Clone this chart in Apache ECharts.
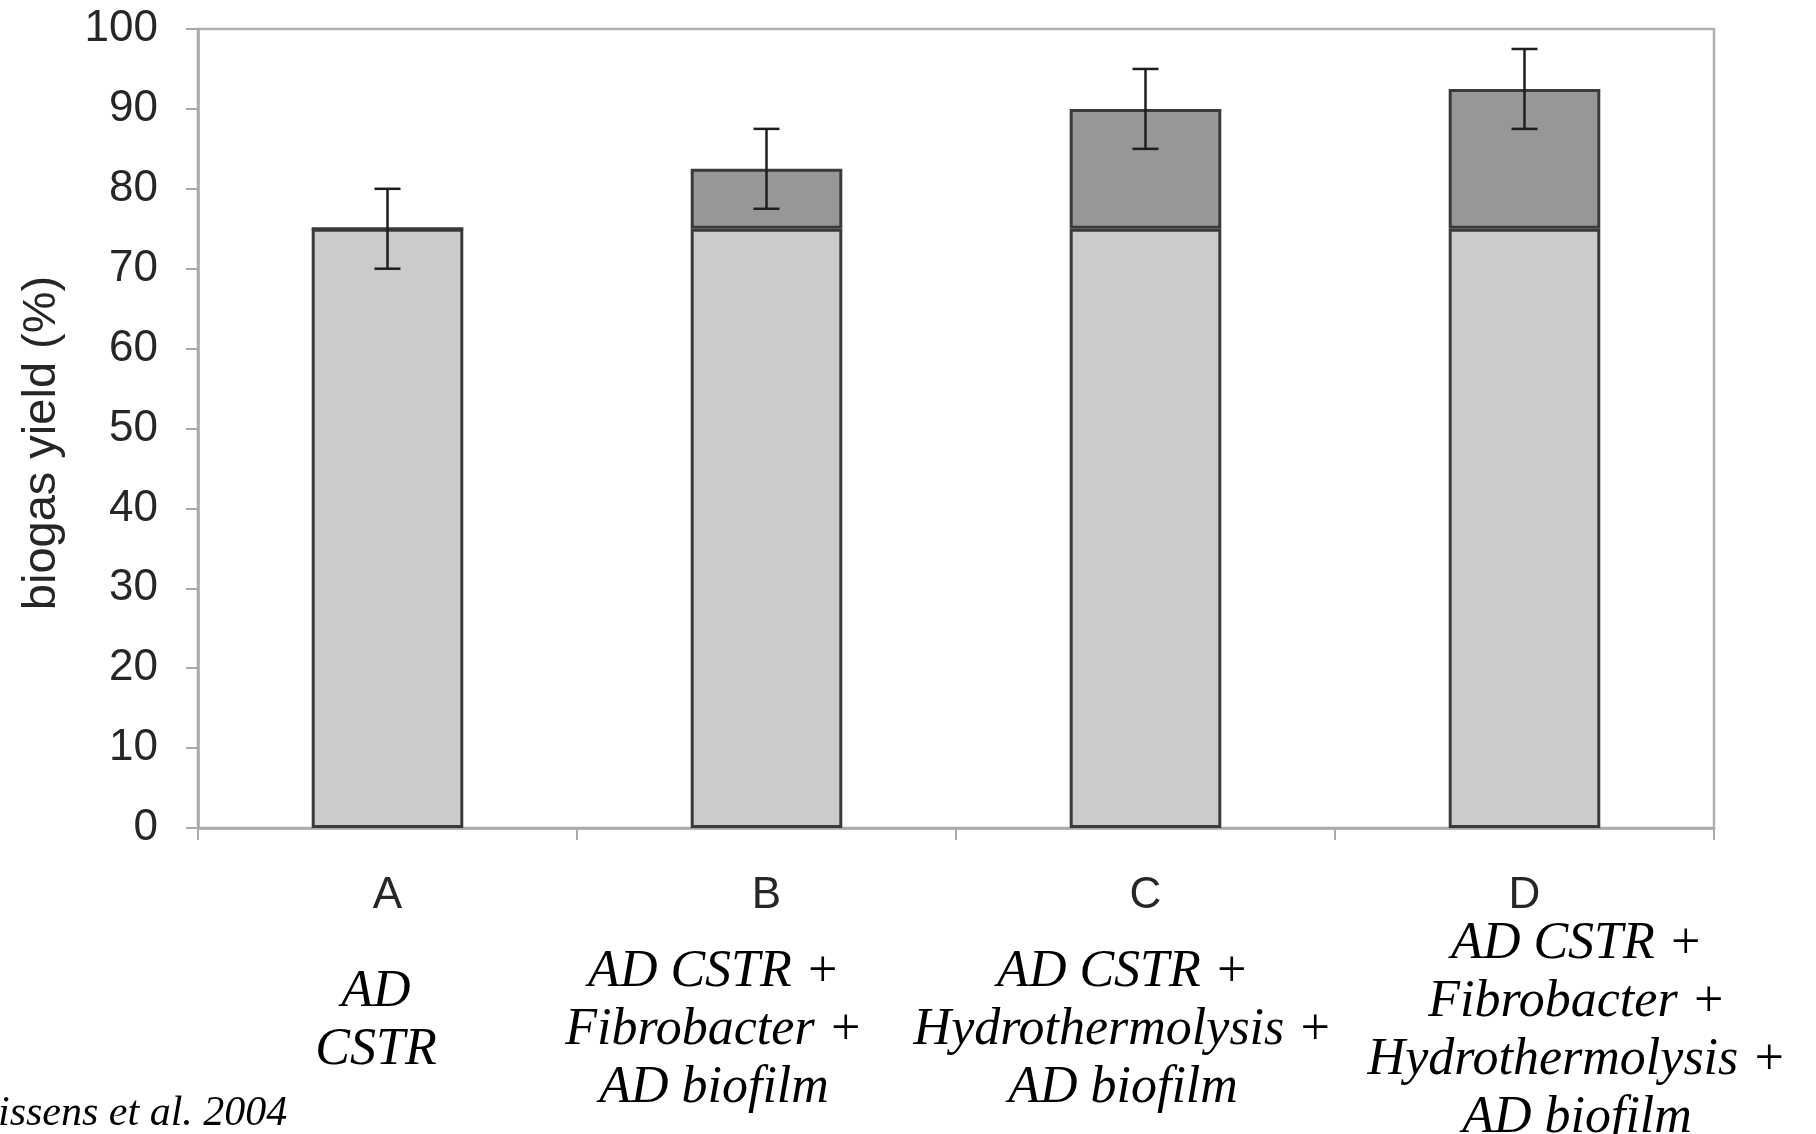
<!DOCTYPE html>
<html>
<head>
<meta charset="utf-8">
<script src="https://cdn.jsdelivr.net/npm/echarts@6/dist/echarts.min.js"></script>
<style>
  html, body { margin: 0; padding: 0; background: #ffffff; }
  #chart { width: 1816px; height: 1134px; }
</style>
</head>
<body>
<div id="chart"></div>
<script>
// ---- data ----
const categories = ['A', 'B', 'C', 'D'];
const baseYield = [75, 75, 75, 75];
const addedYield = [0, 7.5, 15, 17.5];
const errorAmount = [5, 5, 5, 5];
const yMin = 0, yMax = 100, yInterval = 10;
const yAxisTitle = 'biogas yield (%)';
const treatmentLabels = [
  ['AD', 'CSTR'],
  ['AD CSTR +', 'Fibrobacter +', 'AD biofilm'],
  ['AD CSTR +', 'Hydrothermolysis +', 'AD biofilm'],
  ['AD CSTR +', 'Fibrobacter +', 'Hydrothermolysis +', 'AD biofilm']
];
const citation = 'issens et al. 2004';

// ---- layout (pixel placement of free text) ----
const treatmentLabelPos = [[376, 1021], [714, 1030], [1123, 1030], [1577, 1031]];
const yTitlePos = [42, 443];

const totals = baseYield.map((v, i) => v + addedYield[i]);
const errorData = categories.map((c, i) => [i, totals[i] - errorAmount[i], totals[i] + errorAmount[i]]);

const chart = echarts.init(document.getElementById('chart'), null, { renderer: 'canvas' });

const axisGray = '#a9a9a9';
const textDark = '#262626';

const graphics = treatmentLabels.map((lines, i) => ({
  type: 'text',
  x: treatmentLabelPos[i][0],
  y: treatmentLabelPos[i][1],
  style: {
    text: lines.join('\n'),
    font: 'italic 52px "Liberation Serif", serif',
    fill: '#000',
    align: 'center',
    verticalAlign: 'middle',
    lineHeight: 58
  }
}));
graphics.push({
  type: 'text',
  x: -2,
  y: 1114,
  style: {
    text: citation,
    font: 'italic 42px "Liberation Serif", serif',
    fill: '#000',
    align: 'left',
    verticalAlign: 'middle'
  }
});
graphics.push({
  type: 'text',
  x: yTitlePos[0],
  y: yTitlePos[1],
  rotation: Math.PI / 2,
  style: {
    text: yAxisTitle,
    font: '47px "Liberation Sans", Arial, sans-serif',
    fill: textDark,
    align: 'center',
    verticalAlign: 'middle'
  }
});

const option = {
  animation: false,
  backgroundColor: '#ffffff',
  grid: {
    left: 198, top: 29, right: 102, bottom: 306,
    show: true, borderColor: '#b0b0b0', borderWidth: 2.5, backgroundColor: 'transparent'
  },
  xAxis: {
    type: 'category',
    data: categories,
    axisLine: { lineStyle: { color: axisGray, width: 2.5 } },
    axisTick: { show: true, length: 12, lineStyle: { color: axisGray, width: 2 } },
    axisLabel: { fontSize: 44, color: textDark, fontFamily: '"Liberation Sans", Arial, sans-serif', margin: 46 }
  },
  yAxis: {
    type: 'value',
    min: yMin, max: yMax, interval: yInterval,
    axisLine: { show: true, lineStyle: { color: axisGray, width: 2.5 } },
    axisTick: { show: true, length: 12, lineStyle: { color: axisGray, width: 2 } },
    splitLine: { show: false },
    axisLabel: { fontSize: 44, color: textDark, fontFamily: '"Liberation Sans", Arial, sans-serif', margin: 40 }
  },
  series: [
    {
      type: 'bar', stack: 'yield', data: baseYield, barWidth: '40%',
      itemStyle: { color: '#cbcbcb', borderColor: '#3a3a3a', borderWidth: 3 }
    },
    {
      type: 'bar', stack: 'yield', data: addedYield, barWidth: '40%',
      itemStyle: { color: '#979797', borderColor: '#3a3a3a', borderWidth: 3 }
    },
    {
      type: 'custom',
      data: errorData,
      encode: { x: 0, y: [1, 2] },
      z: 10,
      renderItem: function (params, api) {
        const idx = api.value(0);
        const lo = api.coord([idx, api.value(1)]);
        const hi = api.coord([idx, api.value(2)]);
        const hw = 13;
        const st = { stroke: '#1e1e1e', lineWidth: 2.5 };
        return {
          type: 'group',
          children: [
            { type: 'line', shape: { x1: hi[0], y1: hi[1], x2: lo[0], y2: lo[1] }, style: st },
            { type: 'line', shape: { x1: hi[0] - hw, y1: hi[1], x2: hi[0] + hw, y2: hi[1] }, style: st },
            { type: 'line', shape: { x1: lo[0] - hw, y1: lo[1], x2: lo[0] + hw, y2: lo[1] }, style: st }
          ]
        };
      }
    }
  ],
  graphic: graphics
};

chart.setOption(option);
</script>
</body>
</html>
